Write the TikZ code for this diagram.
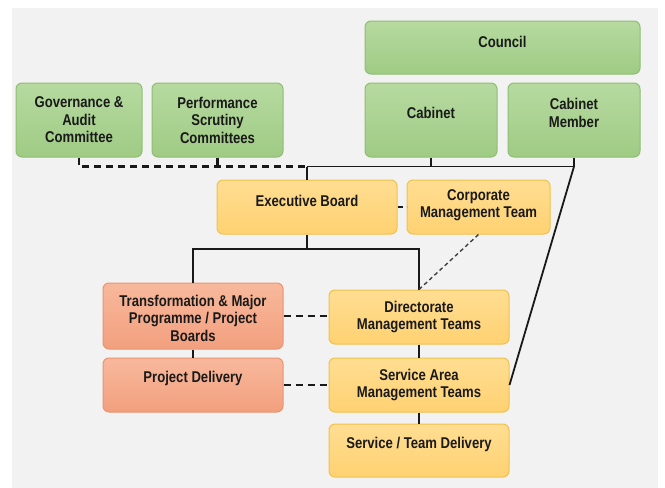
\documentclass[tikz,border=0pt]{standalone}
\usepackage{fontspec}
\newfontfamily\boxfont[FakeStretch=0.84]{Liberation Sans}
\definecolor{bggray}{HTML}{F2F2F2}
\definecolor{gtop}{HTML}{B6DAA0}
\definecolor{gbot}{HTML}{9FCB84}
\definecolor{gdraw}{HTML}{8DBE72}
\definecolor{ytop}{HTML}{FFDD92}
\definecolor{ybot}{HTML}{FFD272}
\definecolor{ydraw}{HTML}{F2C14A}
\definecolor{rtop}{HTML}{F8B89C}
\definecolor{rbot}{HTML}{F2A07E}
\definecolor{rdraw}{HTML}{E99470}
\definecolor{txtc}{HTML}{1A1A1A}
\begin{document}
\begin{tikzpicture}[x=1pt,y=-1pt,
  boxbase/.style={rectangle, rounded corners=6pt, inner sep=0pt, line width=1pt},
  gbox/.style={boxbase, top color=gtop, bottom color=gbot, draw=gdraw},
  ybox/.style={boxbase, top color=ytop, bottom color=ybot, draw=ydraw},
  rbox/.style={boxbase, top color=rtop, bottom color=rbot, draw=rdraw},
  txt/.style={font=\boxfont\bfseries\fontsize{15.6}{17.5}\selectfont, text=txtc, align=center, inner sep=0pt},
  solidline/.style={draw=black!90, line width=1.8pt},
  dashline/.style={draw=black!90, line width=2.2pt, dash pattern=on 7pt off 5pt},
  thindash/.style={draw=black!75, line width=1.4pt, dash pattern=on 4pt off 3pt}]
\useasboundingbox (0,0) rectangle (665,488);
\fill[white] (0,0) rectangle (665,488);
\fill[bggray] (12,8) rectangle (658,488);

% boxes
\node[gbox, minimum width=275pt, minimum height=53pt,
  label={[txt,yshift=5.5pt]center:Council}] (council) at (502.5,47.5) {};
\node[gbox, minimum width=126pt, minimum height=74pt,
  label={[txt]center:Governance \&\\Audit\\Committee}] (gov) at (79,120) {};
\node[gbox, minimum width=131pt, minimum height=74pt,
  label={[txt]center:Performance\\Scrutiny\\Committees}] (perf) at (217.5,120) {};
\node[gbox, minimum width=132pt, minimum height=74pt,
  label={[txt,yshift=7pt]center:Cabinet}] (cab) at (431,120) {};
\node[gbox, minimum width=132pt, minimum height=74pt,
  label={[txt,yshift=7pt]center:Cabinet\\Member}] (cabm) at (574,120) {};
\node[ybox, minimum width=180pt, minimum height=54pt,
  label={[txt,yshift=6pt]center:Executive Board}] (eb) at (307,207) {};
\node[ybox, minimum width=143pt, minimum height=54pt,
  label={[txt,yshift=2pt]center:Corporate\\Management Team}] (cmt) at (478.5,207) {};
\node[rbox, minimum width=180pt, minimum height=66pt,
  label={[txt,yshift=-2pt]center:Transformation \& Major\\Programme / Project\\Boards}] (trans) at (193,316) {};
\node[ybox, minimum width=180pt, minimum height=54pt,
  label={[txt]center:Directorate\\Management Teams}] (dir) at (419,317) {};
\node[rbox, minimum width=180pt, minimum height=54pt,
  label={[txt,yshift=7pt]center:Project Delivery}] (pd) at (193,385) {};
\node[ybox, minimum width=180pt, minimum height=54pt,
  label={[txt]center:Service Area\\Management Teams}] (sa) at (419,385) {};
\node[ybox, minimum width=180pt, minimum height=53pt,
  label={[txt,yshift=6.5pt]center:Service / Team Delivery}] (std) at (419,450.5) {};

% junctions
\coordinate (jtop) at (307,166.5);
\coordinate (jcm) at (cabm.south |- jtop);
\coordinate (jmid) at (307,249);

% dashed governance links
\draw[dashline] (gov.south) |- (jtop);
\draw[dashline] (perf.south) -- (perf.south |- jtop);

% solid top links
\draw[solidline] (jtop) -- (jcm);
\draw[solidline] (cab.south) -- (cab.south |- jtop);
\draw[solidline] (cabm.south) -- (jcm);
\draw[solidline] (jtop) -- (eb.north);
\draw[solidline] (jcm) -- (sa.east);

% executive board down
\draw[solidline] (eb.south) -- (jmid);
\draw[solidline] (trans.north) |- (dir.north |- jmid) -- (dir.north);
\draw[solidline] (trans.south) -- (pd.north);
\draw[solidline] (dir.south) -- (sa.north);
\draw[solidline] (sa.south) -- (std.north);

% dashed side links
\draw[dashline, dash pattern=on 5pt off 4pt] (eb.east) -- (cmt.west);
\draw[dashline] (trans.east) -- (trans.east -| dir.west);
\draw[dashline] (pd.east) -- (sa.west);
\draw[thindash] (cmt.south) -- (dir.north);
\end{tikzpicture}
\end{document}
